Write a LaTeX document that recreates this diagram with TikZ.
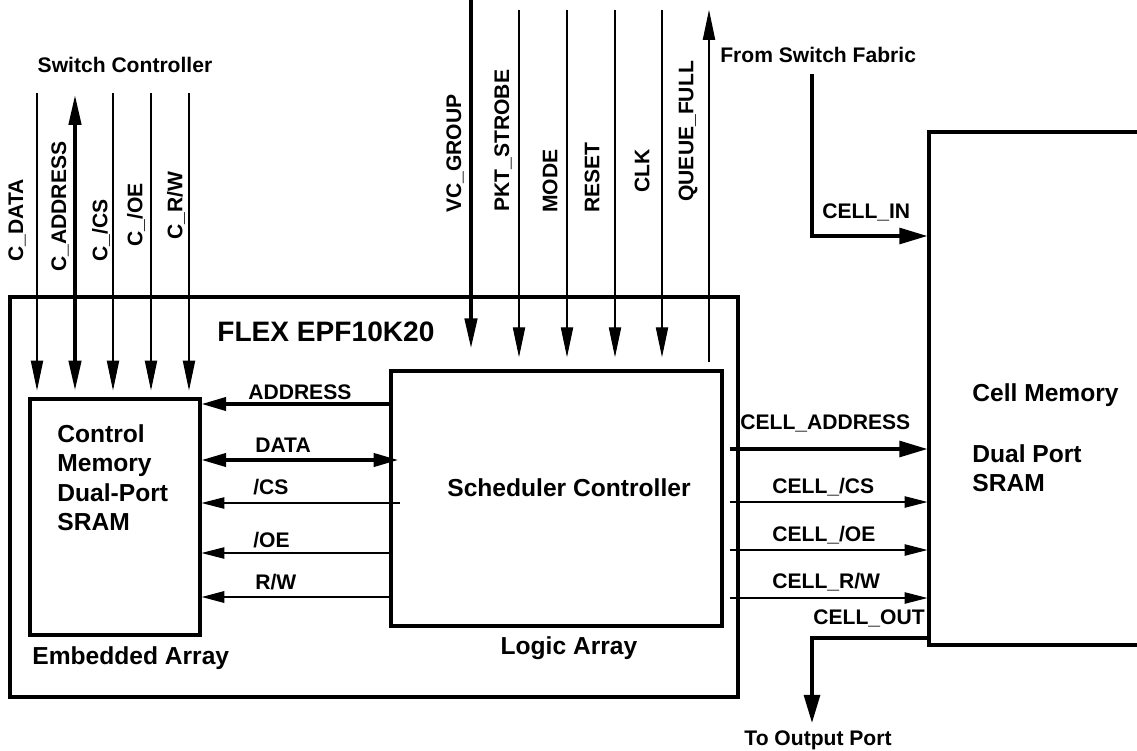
\documentclass[tikz,border=0pt]{standalone}
\usepackage{fontspec}
\setmainfont{Liberation Sans}
\usetikzlibrary{
    arrows.meta,
    calc
}
\tikzset{
  every node/.style={
    font=\bfseries\fontsize{12}{14}\selectfont,
    inner sep=0pt
  },
  box/.style={draw,line width=1.8pt},
  boxtext/.style={font=\bfseries\fontsize{14}{16.8}\selectfont,align=left},
  vlabel/.style={rotate=90,anchor=west},
  wire/.style={line width=0.6pt,->},
  bus/.style={line width=2pt,->,>={Triangle[length=16pt,width=9pt]}},
  tall/.style={>={Triangle[length=17pt,width=7pt]}}
}

\begin{document}
\begin{tikzpicture}[x=0.02cm,y=-0.02cm,>={Triangle[length=13pt,width=6.5pt]}]
    \useasboundingbox (0,0) rectangle (1137,751);

    % ブロック
    \node[box,minimum width=14.56cm,minimum height=8cm] (flex) at (374,497) {};
    \node[box,minimum width=3.4cm,minimum height=4.72cm] (ctrl) at (115,517) {};
    \node[box,minimum width=6.62cm,minimum height=5.1cm] (sched) at (556.5,498.5) {};
    \node[box,minimum width=4.62cm,minimum height=10.26cm] (cell) at (1044.5,388.5) {};

    % ブロックの文字
    \node[anchor=west,font=\bfseries\fontsize{16}{19}\selectfont] (flexname) at (217,332) {FLEX EPF10K20};
    \node[boxtext,anchor=north west] (ctrlname) at (57,424) {Control\\Memory\\Dual-Port\\SRAM};
    \node[boxtext] (schedname) at (569,488) {Scheduler Controller};
    \node[boxtext,anchor=west] (embedded) at (32,658) {Embedded Array};
    \node[boxtext] (logic) at (569,648) {Logic Array};
    \node[boxtext,anchor=west] (cellname) at (972,395) {Cell Memory};
    \node[boxtext,anchor=north west] (cellkind) at (972,444) {Dual Port\\SRAM};

    % Switch Controller
    \node (swctrl) at (125,65) {Switch Controller};
    \coordinate (cdata) at (37,93);
    \coordinate (caddr) at (75,95);
    \coordinate (ccs) at (113,93);
    \coordinate (coe) at (151,93);
    \coordinate (crw) at (189,93);
    \draw[wire,tall,shorten >=4pt] (cdata) -- (cdata |- ctrl.north);
    \draw[bus,tall,<->,shorten >=4pt] (caddr) -- (caddr |- ctrl.north);
    \draw[wire,tall,shorten >=4pt] (ccs) -- (ccs |- ctrl.north);
    \draw[wire,tall,shorten >=4pt] (coe) -- (coe |- ctrl.north);
    \draw[wire,tall,shorten >=4pt] (crw) -- (crw |- ctrl.north);
    \node[vlabel] (lcdata) at (17,262) {C\_DATA};
    \node[vlabel] (lcaddr) at (60,272) {C\_ADDRESS};
    \node[vlabel] (lccs) at (101,262) {C\_/CS};
    \node[vlabel] (lcoe) at (136,247) {C\_/OE};
    \node[vlabel] (lcrw) at (176,240) {C\_R/W};

    % 上からの入力
    \coordinate (vc) at (471,0);
    \coordinate (pkt) at (519,10);
    \coordinate (mode) at (567,10);
    \coordinate (reset) at (615,10);
    \coordinate (clk) at (662,10);
    \coordinate (qf) at (709,10);
    \draw[bus,tall,shorten >=12pt] (vc) -- (vc |- sched.north);
    \draw[wire,tall,shorten >=7pt] (pkt) -- (pkt |- sched.north);
    \draw[wire,tall,shorten >=7pt] (mode) -- (mode |- sched.north);
    \draw[wire,tall,shorten >=7pt] (reset) -- (reset |- sched.north);
    \draw[wire,tall,shorten >=7pt] (clk) -- (clk |- sched.north);
    \draw[wire,tall,shorten <=4pt] (qf |- sched.north) -- (qf);
    \node[vlabel] (lvc) at (455,213) {VC\_GROUP};
    \node[vlabel] (lpkt) at (503,212) {PKT\_STROBE};
    \node[vlabel] (lmode) at (550,213) {MODE};
    \node[vlabel] (lreset) at (592,213) {RESET};
    \node[vlabel] (lclk) at (642,193) {CLK};
    \node[vlabel] (lqf) at (688,202) {QUEUE\_FULL};

    % Scheduler -> Control Memory
    \coordinate (yaddr) at (0,404);
    \coordinate (ydata) at (0,460);
    \coordinate (ycs) at (0,503);
    \coordinate (yoe) at (0,553);
    \coordinate (yrw) at (0,597);
    \draw[bus,>={Triangle[length=14pt,width=7.5pt]}] (sched.west |- yaddr) -- (ctrl.east |- yaddr);
    \draw[bus,<->,>={Triangle[length=14pt,width=7.5pt]},shorten >=-5pt] (ctrl.east |- ydata) -- (sched.west |- ydata);
    \draw[wire,shorten <=-6pt] (sched.west |- ycs) -- (ctrl.east |- ycs);
    \draw[wire] (sched.west |- yoe) -- (ctrl.east |- yoe);
    \draw[wire,line width=1.2pt] (sched.west |- yrw) -- (ctrl.east |- yrw);
    \node[anchor=west] (laddr) at (248,392) {ADDRESS};
    \node[anchor=west] (ldata) at (255,445) {DATA};
    \node[anchor=west] (lcs) at (253,487) {/CS};
    \node[anchor=west] (loe) at (253,540) {/OE};
    \node[anchor=west] (lrw) at (255,582) {R/W};

    % Scheduler -> Cell Memory
    \coordinate (ycaddr) at (0,449);
    \coordinate (yccs) at (0,502);
    \coordinate (ycoe) at (0,550);
    \coordinate (ycrw) at (0,598);
    \draw[bus,shorten <=3.4pt] (sched.east |- ycaddr) -- (cell.west |- ycaddr);
    \draw[wire,shorten <=3.4pt] (sched.east |- yccs) -- (cell.west |- yccs);
    \draw[wire,shorten <=3.4pt] (sched.east |- ycoe) -- (cell.west |- ycoe);
    \draw[wire,shorten <=3.4pt] (sched.east |- ycrw) -- (cell.west |- ycrw);
    \node[anchor=west] (lcaddr2) at (740,423) {CELL\_ADDRESS};
    \node[anchor=west] (lccs2) at (772,487) {CELL\_/CS};
    \node[anchor=west] (lcoe2) at (772,535) {CELL\_/OE};
    \node[anchor=west] (lcrw2) at (772,582) {CELL\_R/W};

    % セルの入出力
    \node[anchor=west] (fromfabric) at (720,55) {From Switch Fabric};
    \coordinate (fabric) at (812,74);
    \coordinate (yin) at (0,236);
    \draw[bus] (fabric) |- (cell.west |- yin);
    \node[anchor=west] (lcin) at (822,212) {CELL\_IN};

    \coordinate (outport) at (812,723);
    \coordinate (yout) at (0,638);
    \draw[bus] (cell.west |- yout) -| (outport);
    \node[anchor=east] (lcout) at (925,618) {CELL\_OUT};
    \node (tooutput) at (818,740) {To Output Port};
\end{tikzpicture}
\end{document}
